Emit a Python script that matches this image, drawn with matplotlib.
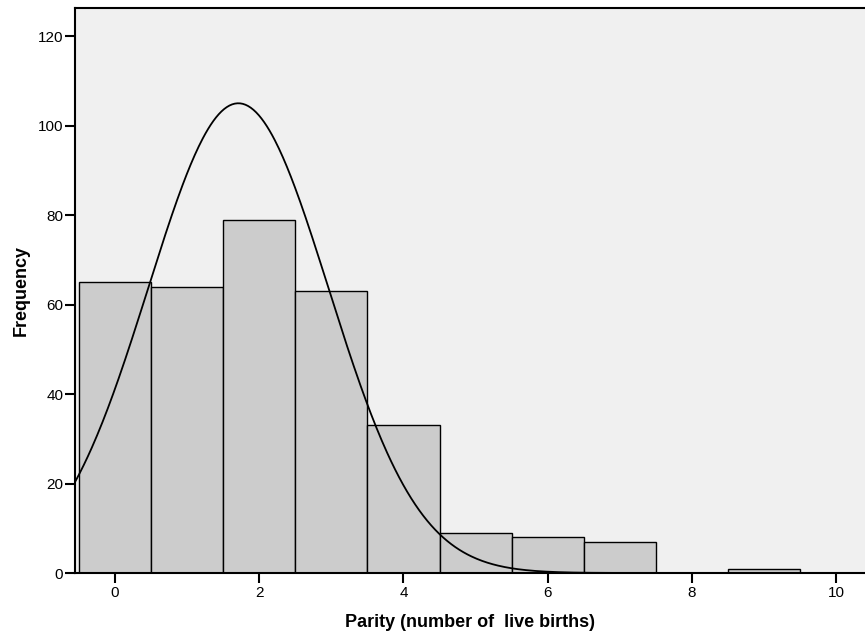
import numpy as np
import matplotlib
matplotlib.use("Agg")
import matplotlib.pyplot as plt

plt.rcParams.update({
    "font.family": ["Liberation Sans", "DejaVu Sans"],
    "font.size": 10.5,
})

# Histogram counts per parity value
parity = [0, 1, 2, 3, 4, 5, 6, 7, 8, 9]
counts = [65, 64, 79, 63, 33, 9, 8, 7, 0, 1]

# Fitted normal curve parameters
curve_mean = 1.71
curve_sd = 1.25

fig = plt.figure(figsize=(8.65, 6.34), dpi=100)
ax = fig.add_axes([0.0867, 0.0962, 0.9133, 0.8912])
ax.set_facecolor("#f0f0f0")

ax.bar(parity, counts, width=1.0, color="#cccccc", edgecolor="black",
       linewidth=1.0, zorder=2)

n_total = sum(counts)
xs = np.linspace(-0.6, 10.5, 600)
ys = n_total / (curve_sd * np.sqrt(2 * np.pi)) * np.exp(-0.5 * ((xs - curve_mean) / curve_sd) ** 2)
ax.plot(xs, ys, color="black", linewidth=1.3, zorder=3)

ax.set_xlim(-0.555, 10.4)
ax.set_ylim(0, 126.3)
ax.set_xticks([0, 2, 4, 6, 8, 10])
ax.set_yticks([0, 20, 40, 60, 80, 100, 120])

for side in ("left", "bottom", "top"):
    ax.spines[side].set_linewidth(1.5)
ax.spines["right"].set_visible(False)

ax.tick_params(axis="both", direction="out", length=7, width=1.5,
               labelsize=11, colors="black")
ax.tick_params(axis="y", pad=1.5)
ax.tick_params(axis="x", pad=2.5)

ax.set_xlabel("Parity (number of  live births)", fontsize=13,
              fontweight="bold", labelpad=10)
ax.set_ylabel("Frequency", fontsize=13, fontweight="bold", labelpad=6)

fig.savefig("out.png", dpi=100)
